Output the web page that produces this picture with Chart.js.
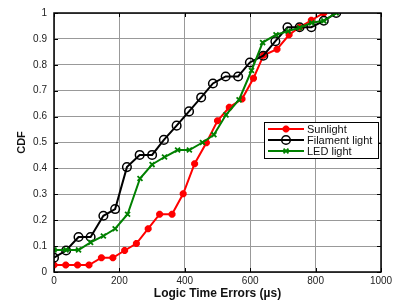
<!DOCTYPE html>
<html>
<head>
<meta charset="utf-8">
<script src="https://cdn.jsdelivr.net/npm/chart.js@4/dist/chart.umd.min.js"></script>
<style>
html,body{margin:0;padding:0;background:#fff;}
canvas{display:block;}
</style>
</head>
<body>
<canvas id="c" width="403" height="306"></canvas>
<script>
const seriesNames = ["Sunlight", "Filament light", "LED light"];

const sunlightX = [0,36,72,107,145,180,216,252,288,323,361,395,430,466,500,536,575,610,641,682,719,751,787,825];
const sunlightY = [0.027,0.027,0.027,0.027,0.055,0.055,0.083,0.11,0.167,0.223,0.223,0.302,0.418,0.499,0.584,0.636,0.668,0.748,0.837,0.86,0.916,0.945,0.972,1.0];

const filamentX = [0,37,75,112,151,187,223,262,300,336,375,413,450,486,525,563,599,640,677,714,751,787,825,863];
const filamentY = [0.055,0.083,0.135,0.135,0.217,0.243,0.405,0.452,0.452,0.51,0.565,0.62,0.674,0.728,0.755,0.755,0.809,0.835,0.891,0.945,0.945,0.945,0.97,1.0];

const ledX = [0,37,75,112,151,187,225,263,300,338,378,414,454,489,526,566,604,638,679,716,751,788,825,863];
const ledY = [0.085,0.085,0.085,0.114,0.139,0.167,0.223,0.361,0.415,0.444,0.471,0.471,0.5,0.53,0.607,0.665,0.778,0.886,0.916,0.93,0.943,0.962,0.97,1.0];

const xTicks = [0,200,400,600,800,1000];
const yTicks = [0,0.1,0.2,0.3,0.4,0.5,0.6,0.7,0.8,0.9,1];

const xTitle = "Logic Time Errors (\u00b5s)";
const yTitle = "CDF";

function pts(xs, ys){ return xs.map((x,i)=>({x:x, y:ys[i]})); }

const styles = [
  {color:'#ff0000', pointStyle:'star', radius:3.5, pbw:2.5, bg:'#ff0000'},
  {color:'#000000', pointStyle:'circle', radius:4.3, pbw:1.5, bg:'rgba(0,0,0,0)'},
  {color:'#008000', pointStyle:'crossRot', radius:3.5, pbw:1.8, bg:'#008000'}
];
const dataSets = [pts(sunlightX,sunlightY), pts(filamentX,filamentY), pts(ledX,ledY)];
const orders = [2,1,0];

const datasets = dataSets.map((d,i)=>({
  label: seriesNames[i],
  data: d,
  borderColor: styles[i].color,
  backgroundColor: styles[i].bg,
  borderWidth: 2,
  pointStyle: styles[i].pointStyle,
  pointRadius: styles[i].radius,
  pointBorderWidth: styles[i].pbw,
  pointBorderColor: styles[i].color,
  pointBackgroundColor: styles[i].bg,
  tension: 0,
  fill: false,
  order: orders[i]
}));

const boxPlugin = {
  id:'box',
  afterDatasetsDraw(chart){
    const ctx = chart.ctx, a = chart.chartArea;
    const xs = chart.scales.x, ys = chart.scales.y;
    ctx.save();
    ctx.strokeStyle = '#000';
    ctx.lineWidth = 1;
    ctx.beginPath();
    xTicks.forEach(v=>{
      const px = Math.round(xs.getPixelForValue(v))+0.5;
      ctx.moveTo(px, a.bottom); ctx.lineTo(px, a.bottom-4);
      ctx.moveTo(px, a.top); ctx.lineTo(px, a.top+4);
    });
    yTicks.forEach(v=>{
      const py = Math.round(ys.getPixelForValue(v))+0.5;
      ctx.moveTo(a.left, py); ctx.lineTo(a.left+4, py);
      ctx.moveTo(a.right, py); ctx.lineTo(a.right-4, py);
    });
    ctx.stroke();
    ctx.lineWidth = 1.5;
    ctx.strokeRect(a.left, a.top, a.right-a.left, a.bottom-a.top);
    ctx.restore();

    // legend
    const bx = 264, by = 122, bw = 114, bh = 36;
    ctx.save();
    ctx.fillStyle = '#fff';
    ctx.fillRect(bx, by, bw, bh);
    ctx.lineWidth = 1;
    ctx.strokeStyle = '#000';
    ctx.strokeRect(bx+0.5, by+0.5, bw, bh);
    ctx.restore();
    seriesNames.forEach((n,i)=>{
      const yy = by + 7 + i*11;
      ctx.save();
      ctx.strokeStyle = styles[i].color;
      ctx.lineWidth = 2;
      ctx.beginPath(); ctx.moveTo(bx+4, yy); ctx.lineTo(bx+40, yy); ctx.stroke();
      ctx.strokeStyle = styles[i].color;
      ctx.fillStyle = styles[i].bg;
      ctx.lineWidth = styles[i].pbw;
      Chart.helpers.drawPoint(ctx, {
        pointStyle: styles[i].pointStyle,
        radius: styles[i].radius,
        borderWidth: styles[i].pbw
      }, bx+22, yy);
      ctx.fillStyle = '#111';
      ctx.font = '11px "Liberation Sans", Arial, sans-serif';
      ctx.textBaseline = 'middle';
      ctx.textAlign = 'left';
      ctx.fillText(n, bx+43, yy+0.5);
      ctx.restore();
    });
  }
};

new Chart(document.getElementById('c'), {
  type:'line',
  data:{datasets},
  options:{
    responsive:false,
    animation:false,
    layout:{padding:{left:0,right:22,top:6,bottom:0}},
    plugins:{legend:{display:false}, tooltip:{enabled:false}},
    scales:{
      x:{
        type:'linear', min:0, max:1000,
        afterBuildTicks(s){ s.ticks = xTicks.map(v=>({value:v})); },
        afterFit(s){ s.height = 34; },
        ticks:{color:'#222', font:{size:10, family:'"Liberation Sans", Arial, sans-serif'}, padding:3, maxRotation:0, callback:v=>String(v)},
        grid:{color:'#999', lineWidth:1, borderDash:[1,3], drawTicks:false},
        border:{display:false},
        title:{display:true, text:xTitle, color:'#111', font:{size:12, weight:'bold', family:'"Liberation Sans", Arial, sans-serif'}, padding:{top:0,bottom:5}}
      },
      y:{
        type:'linear', min:0, max:1,
        afterBuildTicks(s){ s.ticks = yTicks.map(v=>({value:v})); },
        afterFit(s){ s.width = 54; },
        ticks:{color:'#222', font:{size:10, family:'"Liberation Sans", Arial, sans-serif'}, padding:7, callback:v=>String(Math.round(v*10)/10)},
        grid:{color:'#999', lineWidth:1, borderDash:[1,3], drawTicks:false},
        border:{display:false},
        title:{display:true, text:yTitle, color:'#111', font:{size:11, weight:'bold', family:'"Liberation Sans", Arial, sans-serif'}, padding:{top:15,bottom:0}}
      }
    }
  },
  plugins:[boxPlugin]
});
</script>
</body>
</html>
